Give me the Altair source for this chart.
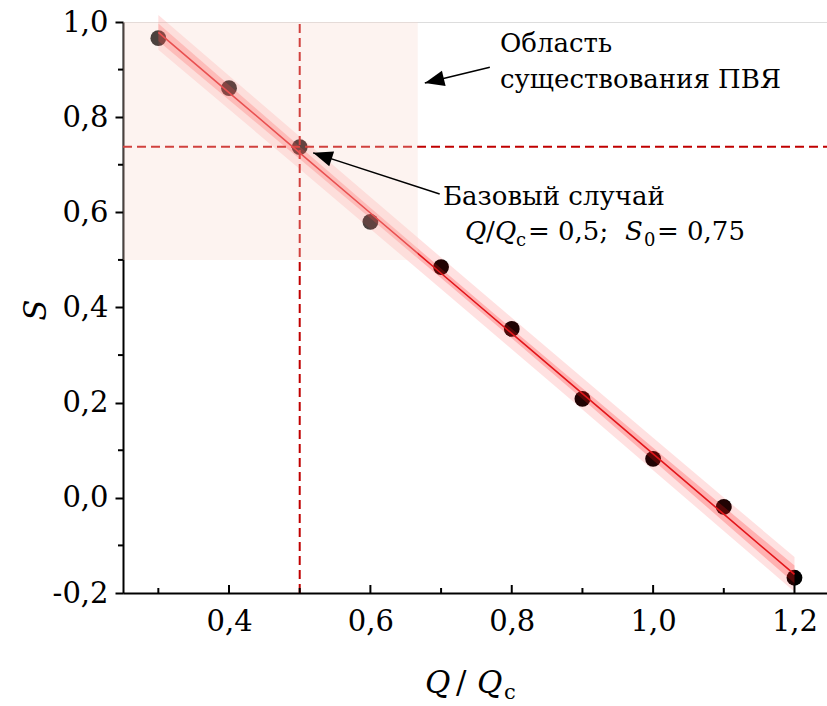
import math
import numpy as np
import pandas as pd
import altair as alt

# Measured points: relative flow Q/Qc and parameter S
q_ratio = [0.3, 0.4, 0.5, 0.6, 0.7, 0.8, 0.9, 1.0, 1.1, 1.2]
s_vals = [0.966, 0.861, 0.737, 0.580, 0.485, 0.355, 0.208, 0.082, -0.019, -0.168]

# Axis ranges and ticks
X_DOMAIN = [0.25, 1.246]
Y_DOMAIN = [-0.2, 1.0]
x_major = [0.4, 0.6, 0.8, 1.0, 1.2]
x_minor = [0.3, 0.5, 0.7, 0.9, 1.1]
y_major = [-0.2, 0.0, 0.2, 0.4, 0.6, 0.8, 1.0]
y_minor = [-0.1, 0.1, 0.3, 0.5, 0.7, 0.9]

# Base case and existence region
base_q = 0.5
base_s = 0.738
region_q = [0.25, 0.667]
region_s = [0.5, 1.0]

# Annotation arrows (tail -> tip, data units)
arrow_tail_q = [0.769, 0.698]
arrow_tail_s = [0.905, 0.6385]
arrow_tip_q = [0.677, 0.519]
arrow_tip_s = [0.872, 0.725]

W, H = 704, 571
FONT = "DejaVu Serif"
BAND_RED = "#ff1a1a"
DASH_RED = "#c00000"

# Linear fit with 95 % confidence and prediction bands
xs = np.array(q_ratio)
ys = np.array(s_vals)
n = len(xs)
slope, intercept = np.polyfit(xs, ys, 1)
fit = intercept + slope * xs
s_err = math.sqrt(float(np.sum((ys - fit) ** 2)) / (n - 2))
sxx = float(np.sum((xs - xs.mean()) ** 2))
T95 = 2.306  # Student t, two-sided 95 %, 8 degrees of freedom
lev = 1.0 / n + (xs - xs.mean()) ** 2 / sxx
conf = T95 * s_err * np.sqrt(lev)
pred = T95 * s_err * np.sqrt(1.0 + lev)

fit_df = pd.DataFrame({
    "q": xs, "fit": fit,
    "c_lo": fit - conf, "c_hi": fit + conf,
    "p_lo": fit - pred, "p_hi": fit + pred,
})
pts_df = pd.DataFrame({"q": q_ratio, "s": s_vals})

xs_scale = alt.Scale(domain=X_DOMAIN, nice=False, zero=False)
ys_scale = alt.Scale(domain=Y_DOMAIN, nice=False, zero=False)

lbl = ("(datum.value < 0 ? '-' : '') + "
       "replace(format(abs(datum.value), '.1f'), '.', ',')")

x_axis = alt.Axis(values=x_major, labelExpr=lbl, ticks=False, grid=False,
                  title=None, labelPadding=14, labelFontSize=29,
                  labelFont=FONT, labelColor="black", domainColor="black",
                  domainWidth=2)
y_axis = alt.Axis(values=y_major, labelExpr=lbl, grid=False, title=None,
                  tickSize=8, tickWidth=2, tickColor="black",
                  labelPadding=7, labelFontSize=29, labelFont=FONT,
                  labelColor="black", domainColor="black", domainWidth=2)

X = lambda f: alt.X(f, type="quantitative", scale=xs_scale, axis=x_axis)
Y = lambda f: alt.Y(f, type="quantitative", scale=ys_scale, axis=y_axis)

points = alt.Chart(pts_df).mark_circle(size=250, color="black", opacity=1).encode(
    x=X("q"), y=Y("s"))

dash_v = alt.Chart(pd.DataFrame({"q": [base_q], "lo": [Y_DOMAIN[0]], "hi": [Y_DOMAIN[1]]})).mark_rule(
    color=DASH_RED, strokeWidth=2, strokeDash=[9, 5]).encode(
    x=X("q"), y=Y("lo"), y2="hi")
dash_h = alt.Chart(pd.DataFrame({"s": [base_s], "lo": [X_DOMAIN[0]], "hi": [X_DOMAIN[1]]})).mark_rule(
    color=DASH_RED, strokeWidth=2, strokeDash=[9, 5]).encode(
    y=Y("s"), x=X("lo"), x2="hi")

pred_band = alt.Chart(fit_df).mark_area(color=BAND_RED, opacity=0.13).encode(
    x=X("q"), y=Y("p_lo"), y2="p_hi")
conf_band = alt.Chart(fit_df).mark_area(color=BAND_RED, opacity=0.24).encode(
    x=X("q"), y=Y("c_lo"), y2="c_hi")
fit_line = alt.Chart(fit_df).mark_line(color="#e3161b", strokeWidth=1.6).encode(
    x=X("q"), y=Y("fit"))

region = alt.Chart(pd.DataFrame({"q0": [region_q[0]], "q1": [region_q[1]],
                                 "s0": [region_s[0]], "s1": [region_s[1]]})).mark_rect(
    color="#f8d7cd", opacity=0.3).encode(
    x=X("q0"), x2="q1", y=Y("s0"), y2="s1")

# Inward ticks on the Q axis, outward minor ticks on the S axis
x_ticks_major = alt.Chart(pd.DataFrame({"q": x_major})).mark_rule(
    color="black", strokeWidth=2).encode(
    x=X("q"), y=alt.value(H), y2=alt.value(H - 8))
x_ticks_minor = alt.Chart(pd.DataFrame({"q": x_minor})).mark_rule(
    color="black", strokeWidth=2).encode(
    x=X("q"), y=alt.value(H), y2=alt.value(H - 5))
y_ticks = alt.Chart(pd.DataFrame({"s": y_minor})).mark_rule(
    color="black", strokeWidth=2).encode(
    y=Y("s"), x=alt.value(-5), x2=alt.value(0))

# Arrows
arr_df = pd.DataFrame({"q0": arrow_tail_q, "s0": arrow_tail_s,
                       "q1": arrow_tip_q, "s1": arrow_tip_s})
px_per_q = W / (X_DOMAIN[1] - X_DOMAIN[0])
px_per_s = H / (Y_DOMAIN[1] - Y_DOMAIN[0])
arr_df["ang"] = [
    math.degrees(math.atan2(-(b1 - b0) * px_per_s, (a1 - a0) * px_per_q)) % 360
    for a0, b0, a1, b1 in zip(arr_df.q0, arr_df.s0, arr_df.q1, arr_df.s1)
]
arrow_lines = alt.Chart(arr_df).mark_rule(color="black", strokeWidth=1.5).encode(
    x=X("q0"), y=Y("s0"), x2="q1", y2="s1")
arrow_heads = alt.Chart(arr_df).mark_point(
    shape="M0,0L-2,-0.8L-2,0.8Z", filled=True, color="black", opacity=1,
    size=380, strokeWidth=0).encode(
    x=X("q1"), y=Y("s1"), angle=alt.Angle("ang:Q", scale=None))


def texts(rows, size, style="normal", angle=0, align="left"):
    df = pd.DataFrame(rows, columns=["t", "px", "py"])
    return alt.Chart(df).mark_text(
        font=FONT, fontSize=size, fontStyle=style, color="black",
        align=align, baseline="alphabetic", angle=angle).encode(
        x=alt.X("px:Q", scale=None), y=alt.Y("py:Q", scale=None), text="t:N")


# Annotation texts (plot-area pixels, left-aligned on the baseline)
ann_regular = [
    ("Область", 377, 30),
    ("существования ПВЯ", 377, 66),
    ("Базовый случай", 320, 183),
    ("/", 363, 218),
    ("= 0,5;", 405, 218),
    ("= 0,75", 534, 218),
]
ann_italic = [
    ("Q", 342, 218),
    ("Q", 372, 218),
    ("S", 502, 218),
]
ann_subscript = [
    ("c", 393, 224),
    ("0", 521, 224),
]

# Axis titles
xt_regular = [("/", 333, 671)]
xt_italic = [("Q", 302, 671), ("Q", 354, 671)]
xt_subscript = [("c", 381, 677)]

layers_text = [
    texts(ann_regular, 26),
    texts(ann_italic, 26, "italic"),
    texts(ann_subscript, 18),
    texts(xt_regular, 31),
    texts(xt_italic, 31, "italic"),
    texts(xt_subscript, 21),
    texts([("S", -77, 288)], 31, "italic", angle=270, align="center"),
]

chart = alt.layer(
    points, dash_v, dash_h, pred_band, conf_band, fit_line, region,
    x_ticks_major, x_ticks_minor, y_ticks, arrow_lines, arrow_heads,
    *layers_text,
).properties(
    width=W, height=H,
    autosize=alt.AutoSizeParams(type="none"),
    padding={"left": 123, "top": 22, "right": 0, "bottom": 113},
).configure_view(stroke=None).configure(background="white")

chart.save("out.html", embed_options={"renderer": "svg", "actions": False})
